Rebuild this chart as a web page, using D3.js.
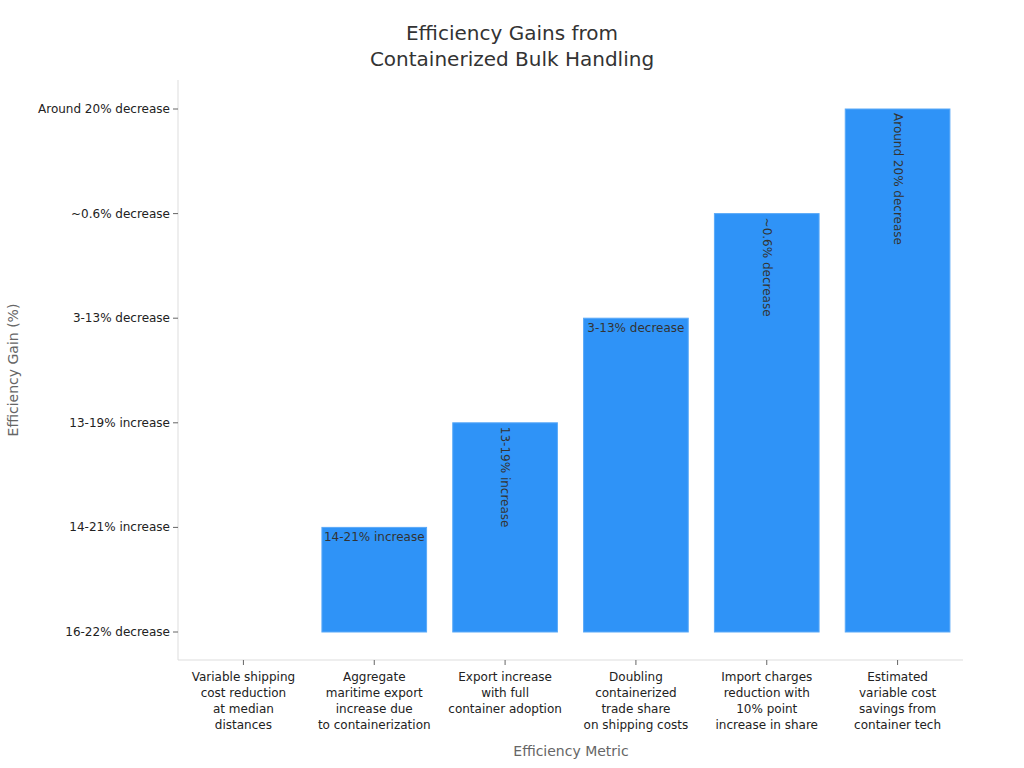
<!DOCTYPE html>
<html><head><meta charset="utf-8">
<script src="https://cdn.jsdelivr.net/npm/d3@7"></script>
<style>body{margin:0;background:#fff}text{font-family:"DejaVu Sans",sans-serif}</style>
</head><body><svg id="c" width="1024" height="768"></svg>
<script>
const categories = [
  ["Variable shipping","cost reduction","at median","distances"],
  ["Aggregate","maritime export","increase due","to containerization"],
  ["Export increase","with full","container adoption"],
  ["Doubling","containerized","trade share","on shipping costs"],
  ["Import charges","reduction with","10% point","increase in share"],
  ["Estimated","variable cost","savings from","container tech"]
];
const yLevels = ["16-22% decrease","14-21% increase","13-19% increase","3-13% decrease","~0.6% decrease","Around 20% decrease"];
const values = ["16-22% decrease","14-21% increase","13-19% increase","3-13% decrease","~0.6% decrease","Around 20% decrease"];
const rotated = [false,false,true,false,true,true];

const svg = d3.select("#c");
const L=178,R=963,T=80,B=660;
const x = d3.scaleBand().domain(d3.range(categories.length)).range([L,R]).paddingInner(0.2).paddingOuter(0.1);
const y = d3.scalePoint().domain(yLevels).range([632,109]);

svg.append("text").attr("x",512).attr("y",40).attr("text-anchor","middle").attr("font-size",20).attr("fill","#333").text("Efficiency Gains from");
svg.append("text").attr("x",512).attr("y",66).attr("text-anchor","middle").attr("font-size",20).attr("fill","#333").text("Containerized Bulk Handling");

svg.append("line").attr("x1",L).attr("x2",L).attr("y1",T).attr("y2",B).attr("stroke","#ddd");
svg.append("line").attr("x1",L).attr("x2",R).attr("y1",B).attr("y2",B).attr("stroke","#ddd");

const base = y(yLevels[0]);
svg.selectAll("rect.bar").data(values).enter().append("rect")
  .attr("x",(d,i)=>x(i)).attr("width",x.bandwidth())
  .attr("y",d=>y(d)).attr("height",d=>base-y(d))
  .attr("fill","#2f93f7").attr("stroke","#5aa9f8").attr("stroke-width",1);

values.forEach((d,i)=>{
  if(d===yLevels[0]) return;
  const cx=x(i)+x.bandwidth()/2, ty=y(d);
  if(rotated[i]){
    svg.append("text").attr("transform",`translate(${cx-4},${ty+4}) rotate(90)`)
      .attr("font-size",12).attr("fill","#333").text(d);
  } else {
    svg.append("text").attr("x",cx).attr("y",ty+14).attr("text-anchor","middle")
      .attr("font-size",12).attr("fill","#333").text(d);
  }
});

yLevels.forEach(l=>{
  const yy=y(l);
  svg.append("line").attr("x1",L-5).attr("x2",L).attr("y1",yy).attr("y2",yy).attr("stroke","#666");
  svg.append("text").attr("x",L-8).attr("y",yy+4).attr("text-anchor","end").attr("font-size",12).attr("fill","#222").text(l);
});
categories.forEach((lines,i)=>{
  const cx=x(i)+x.bandwidth()/2;
  svg.append("line").attr("x1",cx).attr("x2",cx).attr("y1",B).attr("y2",B+5).attr("stroke","#666");
  const t=svg.append("text").attr("text-anchor","middle").attr("font-size",12).attr("fill","#222");
  lines.forEach((s,k)=>t.append("tspan").attr("x",cx).attr("y",681+k*16).text(s));
});
svg.append("text").attr("x",571).attr("y",756).attr("text-anchor","middle").attr("font-size",14).attr("fill","#666").text("Efficiency Metric");
svg.append("text").attr("transform","translate(18,370) rotate(-90)").attr("text-anchor","middle").attr("font-size",14).attr("fill","#666").text("Efficiency Gain (%)");
</script></body></html>
